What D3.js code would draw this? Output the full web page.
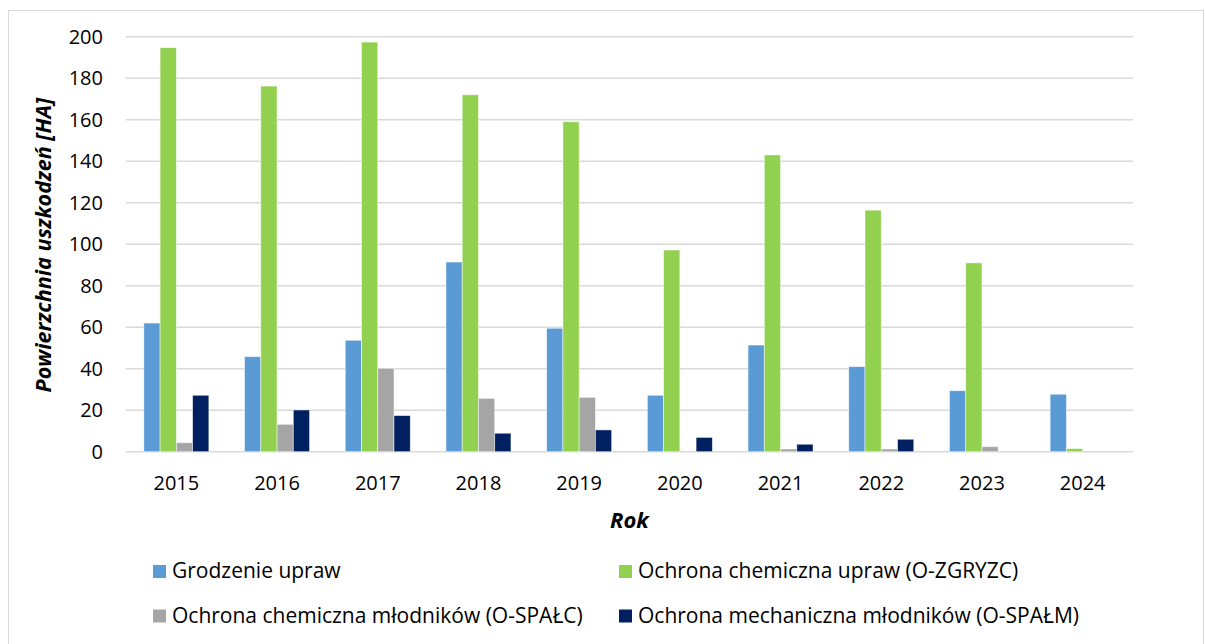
<!DOCTYPE html>
<html>
<head>
<meta charset="utf-8">
<script src="https://cdn.jsdelivr.net/npm/d3@7"></script>
<style>
  body { margin: 0; background: #fff; }
  svg text { font-family: "Open Sans", "Noto Sans", sans-serif; fill: #000; }
</style>
</head>
<body>
<script>
let years = ["2015","2016","2017","2018","2019","2020","2021","2022","2023","2024"];
let seriesNames = [
  "Grodzenie upraw",
  "Ochrona chemiczna upraw (O-ZGRYZC)",
  "Ochrona chemiczna młodników (O-SPAŁC)",
  "Ochrona mechaniczna młodników (O-SPAŁM)"
];
let grodzenie = [62, 45.8, 53.7, 91.4, 59.5, 27.2, 51.4, 41, 29.4, 27.7];
let ozgryzc   = [194.7, 176.2, 197.4, 172, 159, 97.2, 143, 116.4, 91, 1.5];
let ospalc    = [4.3, 13.2, 40.2, 25.7, 26.2, 0, 1.3, 1.3, 2.4, 0];
let ospalm    = [27.2, 20.1, 17.4, 8.9, 10.5, 6.9, 3.6, 6, 0, 0];
let yTicks = [0, 20, 40, 60, 80, 100, 120, 140, 160, 180, 200];
let colors = ["#5B9BD5", "#92D050", "#A5A5A5", "#002060"];

let allSeries = [grodzenie, ozgryzc, ospalc, ospalm];

let w = 1205, h = 644;
let plotLeft = 126, plotRight = 1133, plotTop = 36.7, plotBottom = 451.7;

let svg = d3.select("body").append("svg")
  .attr("width", w).attr("height", h);

// outer frame
svg.append("rect")
  .attr("x", 8.5).attr("y", 10.5)
  .attr("width", 1195).attr("height", 645)
  .attr("fill", "none").attr("stroke", "#d9d9d9").attr("stroke-width", 1);

let x0 = d3.scaleBand().domain(years).range([plotLeft, plotRight]);
let x1 = d3.scaleBand().domain(d3.range(4)).range([0, 65]);
let bandOffset = (x0.bandwidth() - 65) / 2;

let y = d3.scaleLinear().domain([0, 200]).range([plotBottom, plotTop]);

// gridlines
svg.append("g")
  .selectAll("line")
  .data(yTicks)
  .enter().append("line")
  .attr("x1", plotLeft).attr("x2", plotRight)
  .attr("y1", d => y(d)).attr("y2", d => y(d))
  .attr("stroke", "#d9d9d9").attr("stroke-width", 1.5);

// y axis labels
let yAxis = d3.axisLeft(y).tickValues(yTicks).tickSize(0).tickPadding(23);
svg.append("g")
  .attr("transform", "translate(" + plotLeft + ",0)")
  .call(yAxis)
  .call(g => g.select(".domain").remove())
  .call(g => g.selectAll("text").attr("font-size", 20).attr("font-family", "'Open Sans', sans-serif"));

// bars
let groups = svg.append("g").selectAll("g")
  .data(years)
  .enter().append("g")
  .attr("transform", d => "translate(" + (x0(d) + bandOffset) + ",0)");

groups.selectAll("rect")
  .data((d, i) => allSeries.map((s, k) => ({k: k, v: s[i]})).filter(e => e.v > 0))
  .enter().append("rect")
  .attr("x", d => x1(d.k))
  .attr("width", x1.bandwidth())
  .attr("y", d => y(d.v))
  .attr("height", d => plotBottom - y(d.v))
  .attr("fill", d => colors[d.k])
  .attr("stroke", "#ffffff")
  .attr("stroke-opacity", 0.6)
  .attr("stroke-width", 0.8);

// x axis labels
let xAxis = d3.axisBottom(x0).tickSize(0).tickPadding(24.5);
svg.append("g")
  .attr("transform", "translate(0," + plotBottom + ")")
  .call(xAxis)
  .call(g => g.select(".domain").remove())
  .call(g => g.selectAll("text").attr("font-size", 20).attr("font-family", "'Open Sans', sans-serif"));

// axis titles
svg.append("text")
  .attr("transform", "translate(51," + ((plotTop + plotBottom) / 2 + 1) + ") rotate(-90)")
  .attr("text-anchor", "middle")
  .attr("font-size", 21.5)
  .attr("font-weight", "bold")
  .attr("font-style", "italic")
  .text("Powierzchnia uszkodzeń [HA]");

svg.append("text")
  .attr("x", (plotLeft + plotRight) / 2).attr("y", 528)
  .attr("text-anchor", "middle")
  .attr("font-size", 22)
  .attr("font-weight", "bold")
  .attr("font-style", "italic")
  .text("Rok");

// legend
let legendPos = [[153, 578], [619, 578], [153, 622.5], [619, 622.5]];
let legend = svg.append("g").selectAll("g")
  .data(seriesNames)
  .enter().append("g")
  .attr("transform", (d, i) => "translate(" + legendPos[i][0] + "," + legendPos[i][1] + ")");
legend.append("rect")
  .attr("x", 0).attr("y", -13).attr("width", 13).attr("height", 13)
  .attr("fill", (d, i) => colors[i]);
legend.append("text")
  .attr("x", 19).attr("y", 0)
  .attr("font-size", 21)
  .text(d => d);
</script>
</body>
</html>
